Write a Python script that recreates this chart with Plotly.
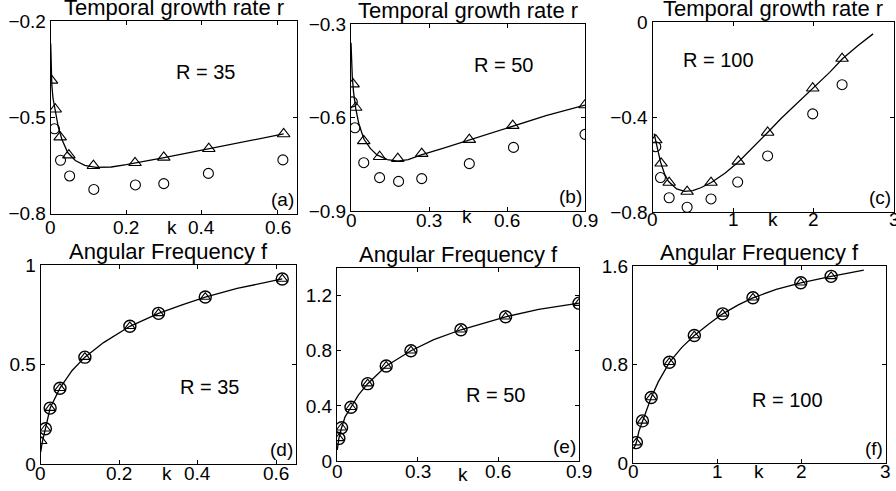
import plotly.graph_objects as go

# ---------------- data ----------------
# (a) R = 35, growth rate
a_tri_k = [0.002, 0.012, 0.025, 0.048, 0.113, 0.223, 0.299, 0.418, 0.616]
a_tri_r = [-0.385, -0.475, -0.562, -0.618, -0.651, -0.642, -0.625, -0.598, -0.552]
a_cir_k = [0.010, 0.026, 0.050, 0.114, 0.224, 0.299, 0.417, 0.614]
a_cir_r = [-0.536, -0.634, -0.683, -0.725, -0.711, -0.707, -0.675, -0.633]
a_line_k = [0.0, 0.001, 0.003, 0.006, 0.012, 0.02, 0.03, 0.045, 0.065, 0.09, 0.12,
            0.16, 0.2, 0.25, 0.3, 0.36, 0.42, 0.5, 0.56, 0.616]
a_line_r = [-0.27, -0.34, -0.40, -0.44, -0.48, -0.53, -0.57, -0.61, -0.635, -0.65, -0.656,
            -0.655, -0.648, -0.638, -0.626, -0.612, -0.598, -0.58, -0.566, -0.552]

# (b) R = 50, growth rate
b_tri_k = [0.008, 0.018, 0.049, 0.110, 0.180, 0.272, 0.455, 0.622, 0.900]
b_tri_r = [-0.493, -0.568, -0.675, -0.726, -0.732, -0.716, -0.671, -0.626, -0.560]
b_cir_k = [0.005, 0.015, 0.049, 0.110, 0.183, 0.272, 0.455, 0.625, 0.900]
b_cir_r = [-0.550, -0.633, -0.745, -0.793, -0.805, -0.796, -0.748, -0.696, -0.654]
b_line_k = [0.0, 0.002, 0.005, 0.01, 0.018, 0.03, 0.05, 0.075, 0.1, 0.14, 0.18,
            0.22, 0.27, 0.35, 0.455, 0.55, 0.622, 0.75, 0.9]
b_line_r = [-0.36, -0.42, -0.47, -0.52, -0.57, -0.62, -0.67, -0.70, -0.72, -0.735, -0.74,
            -0.735, -0.72, -0.70, -0.672, -0.647, -0.626, -0.594, -0.56]

# (c) R = 100, growth rate
c_tri_k = [0.041, 0.107, 0.207, 0.430, 0.727, 1.066, 1.430, 1.990, 2.355]
c_tri_r = [-0.497, -0.595, -0.676, -0.714, -0.676, -0.587, -0.465, -0.279, -0.154]
c_cir_k = [0.041, 0.099, 0.207, 0.430, 0.727, 1.058, 1.430, 1.990, 2.355]
c_cir_r = [-0.525, -0.655, -0.740, -0.780, -0.745, -0.674, -0.564, -0.387, -0.264]
c_line_k = [0.02, 0.05, 0.1, 0.15, 0.2, 0.3, 0.4, 0.5, 0.6, 0.73, 0.9, 1.07, 1.25,
            1.43, 1.6, 1.8, 2.0, 2.2, 2.36, 2.55, 2.74]
c_line_r = [-0.47, -0.52, -0.59, -0.64, -0.672, -0.703, -0.713, -0.71, -0.698, -0.676,
            -0.637, -0.588, -0.528, -0.465, -0.405, -0.34, -0.279, -0.212, -0.155,
            -0.10, -0.05]

# (d) R = 35, angular frequency
d_tri_k = [0.003, 0.012, 0.024, 0.049, 0.1125, 0.227, 0.300, 0.419, 0.615]
d_tri_f = [0.114, 0.177, 0.281, 0.381, 0.537, 0.692, 0.757, 0.839, 0.930]
d_cir_k = [0.012, 0.024, 0.049, 0.1125, 0.227, 0.300, 0.419, 0.615]
d_cir_f = [0.177, 0.281, 0.381, 0.537, 0.692, 0.757, 0.839, 0.930]
d_line_k = [0.0, 0.004, 0.012, 0.024, 0.049, 0.08, 0.1125, 0.16, 0.227, 0.3, 0.36,
            0.419, 0.5, 0.615]
d_line_f = [0.06, 0.11, 0.177, 0.281, 0.381, 0.47, 0.537, 0.61, 0.692, 0.757, 0.80,
            0.839, 0.882, 0.93]

# (e) R = 50, angular frequency
e_tri_k = [0.007, 0.017, 0.052, 0.114, 0.183, 0.275, 0.461, 0.627, 0.900]
e_tri_f = [0.164, 0.241, 0.390, 0.561, 0.689, 0.800, 0.952, 1.046, 1.145]
e_cir_k = e_tri_k
e_cir_f = e_tri_f
e_line_k = [0.001, 0.007, 0.017, 0.03, 0.052, 0.08, 0.114, 0.183, 0.275, 0.36, 0.461,
            0.55, 0.627, 0.75, 0.9]
e_line_f = [0.08, 0.164, 0.241, 0.32, 0.39, 0.48, 0.561, 0.689, 0.80, 0.88, 0.952,
            1.005, 1.046, 1.10, 1.145]

# (f) R = 100, angular frequency
f_tri_k = [0.040, 0.112, 0.216, 0.432, 0.728, 1.064, 1.424, 1.992, 2.352]
f_tri_f = [0.168, 0.344, 0.534, 0.819, 1.036, 1.212, 1.342, 1.464, 1.516]
f_cir_k = f_tri_k
f_cir_f = f_tri_f
f_line_k = [0.01, 0.04, 0.07, 0.112, 0.16, 0.216, 0.3, 0.432, 0.58, 0.728, 0.9, 1.064,
            1.25, 1.424, 1.7, 1.992, 2.352, 2.74]
f_line_f = [0.12, 0.168, 0.26, 0.344, 0.44, 0.534, 0.66, 0.819, 0.94, 1.036, 1.13,
            1.212, 1.285, 1.342, 1.41, 1.464, 1.516, 1.567]

titles = ["Temporal growth rate r"] * 3 + ["Angular Frequency f"] * 3
r_labels = ["R = 35", "R = 50", "R = 100", "R = 35", "R = 50", "R = 100"]
panel_labels = ["(a)", "(b)", "(c)", "(d)", "(e)", "(f)"]
x_ticks = [[0, 0.2, 0.4, 0.6], [0, 0.3, 0.6, 0.9], [0, 1, 2, 3]] * 2
x_ticktext = [["0", "0.2", "0.4", "0.6"], ["0", "0.3", "0.6", "0.9"], ["0", "1", "2", "3"]] * 2
y_ticks = [[-0.8, -0.5, -0.2], [-0.9, -0.6, -0.3], [-0.8, -0.4, 0],
           [0, 0.5, 1], [0, 0.4, 0.8, 1.2], [0, 0.8, 1.6]]
y_ticktext = [["−0.8", "−0.5", "−0.2"], ["−0.9", "−0.6", "−0.3"], ["−0.8", "−0.4", "0"],
              ["0", "0.5", "1"], ["0", "0.4", "0.8", "1.2"], ["0", "0.8", "1.6"]]

# ---------------- layout settings ----------------
W, H = 896, 491
boxes = [  # left, right, top, bottom in pixels
    (50.7, 296.5, 21, 213.5),
    (351, 585, 24, 211),
    (652.5, 894, 22, 212),
    (40.7, 296, 265, 464),
    (337, 579, 268, 461),
    (633, 885.7, 266, 463.3),
]
xlab_off = [14, 9, 7, 9, 10, 8]     # px below axis to centre of x tick labels
k_off = [14, 5, 7, 9, 13, 8]        # px below axis to centre of "k"
x_ranges = [[0, 0.65], [0, 0.9], [0, 3], [0, 0.65], [0, 0.9], [0, 3]]
y_ranges = [[-0.8, -0.2], [-0.9, -0.3], [-0.8, 0], [0, 1], [0, 1.4], [0, 1.6]]
r_pos = [(0.41, -0.36), (0.588, -0.432), (0.826, -0.16),
         (0.431, 0.387), (0.591, 0.479), (1.84, 0.513)]
k_pos = [0.321, 0.446, 1.497, 0.3216, 0.469, 1.496]

panels = [
    (a_tri_k, a_tri_r, a_cir_k, a_cir_r, a_line_k, a_line_r),
    (b_tri_k, b_tri_r, b_cir_k, b_cir_r, b_line_k, b_line_r),
    (c_tri_k, c_tri_r, c_cir_k, c_cir_r, c_line_k, c_line_r),
    (d_tri_k, d_tri_f, d_cir_k, d_cir_f, d_line_k, d_line_f),
    (e_tri_k, e_tri_f, e_cir_k, e_cir_f, e_line_k, e_line_f),
    (f_tri_k, f_tri_f, f_cir_k, f_cir_f, f_line_k, f_line_f),
]

FONT = "Liberation Sans, Arial, Helvetica, sans-serif"
fig = go.Figure()
layout = dict(
    template="none",
    width=W, height=H, margin=dict(l=0, r=0, t=0, b=0, autoexpand=False),
    paper_bgcolor="white", plot_bgcolor="white", showlegend=False,
    font=dict(family=FONT, size=18, color="black"),
)
annotations = []

for i, (tk, tv, ck, cv, lk, lv) in enumerate(panels):
    n = "" if i == 0 else str(i + 1)
    xa, ya = "x" + n, "y" + n
    lower = i >= 3
    fig.add_trace(go.Scatter(x=lk, y=lv, mode="lines", xaxis=xa, yaxis=ya,
                             line=dict(color="black", width=1.3), hoverinfo="skip"))
    fig.add_trace(go.Scatter(x=ck, y=cv, mode="markers", xaxis=xa, yaxis=ya,
                             marker=dict(symbol="circle-open", size=12 if lower else 10,
                                         color="black", line=dict(width=1.4 if lower else 1.1))))
    fig.add_trace(go.Scatter(x=tk, y=tv, mode="markers", xaxis=xa, yaxis=ya,
                             marker=dict(symbol="triangle-up-open", size=9 if lower else 11,
                                         color="black", line=dict(width=1.1))))
    l, r, t, b = boxes[i]
    axcommon = dict(showline=True, linecolor="black", linewidth=1, mirror="ticks",
                    ticks="inside", ticklen=4, tickcolor="black", tickwidth=1,
                    showgrid=False, zeroline=False, automargin=False,
                    ticklabeloverflow="allow",
                    tickfont=dict(size=19, family=FONT))
    layout["xaxis" + n] = dict(domain=[l / W, r / W], range=x_ranges[i], anchor=ya,
                               tickvals=x_ticks[i], showticklabels=False, **axcommon)
    layout["yaxis" + n] = dict(domain=[1 - b / H, 1 - t / H], range=y_ranges[i], anchor=xa,
                               tickvals=y_ticks[i], ticktext=y_ticktext[i], **axcommon)
    # x tick labels (placed like the reference, close to the axis)
    for val, txt in zip(x_ticks[i], x_ticktext[i]):
        annotations.append(dict(text=txt, xref=xa, yref=ya + " domain", x=val, y=0,
                                xanchor="center", yanchor="middle", yshift=-xlab_off[i],
                                showarrow=False, font=dict(size=19, family=FONT)))
    # title
    annotations.append(dict(text=titles[i], xref=xa + " domain", yref=ya + " domain",
                            x=0.5, y=1, xanchor="center", yanchor="bottom", yshift=-1,
                            showarrow=False, font=dict(size=22, family=FONT)))
    # R label
    annotations.append(dict(text=r_labels[i], xref=xa, yref=ya, x=r_pos[i][0], y=r_pos[i][1],
                            xanchor="center", yanchor="middle", showarrow=False,
                            font=dict(size=20, family=FONT)))
    # panel label
    annotations.append(dict(text=panel_labels[i], xref=xa + " domain", yref=ya + " domain",
                            x=1, y=0, xanchor="right", yanchor="bottom", xshift=-1, yshift=2,
                            showarrow=False, font=dict(size=19, family=FONT)))
    # k axis label among ticks
    annotations.append(dict(text="k", xref=xa, yref=ya + " domain", x=k_pos[i], y=0,
                            xanchor="center", yanchor="middle", yshift=-k_off[i],
                            showarrow=False, font=dict(size=19, family=FONT)))

layout["annotations"] = annotations
fig.update_layout(**layout)
fig.write_html("out.html", config={"displayModeBar": False},
               post_script="document.body.style.margin='0';document.body.style.overflow='hidden';")
